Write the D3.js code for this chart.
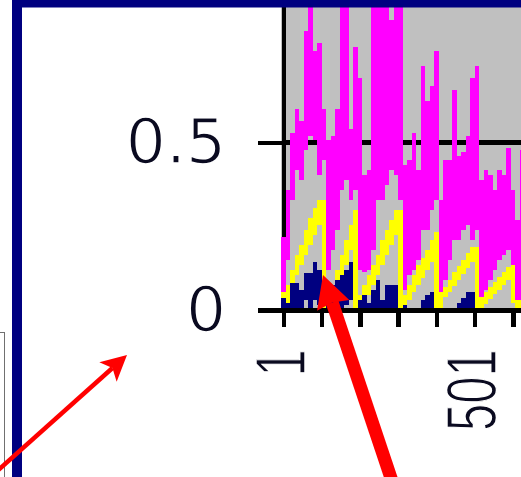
<!DOCTYPE html>
<html>
<head>
<meta charset="utf-8">
<script src="https://cdn.jsdelivr.net/npm/d3@7/dist/d3.min.js"></script>
<style>
  html, body { margin: 0; padding: 0; background: #ffffff; overflow: hidden; }
  #chart svg { display: block; }
</style>
</head>
<body>
<div id="chart"></div>
<script>
// one entry per drawn column (~11.8 points each): low / high of each line inside that column
const magentaHi = [0.218, 0.358, 0.527, 0.599, 0.563, 0.831, 0.95, 0.772, 0.795, 0.599,
  0.507, 0.519, 0.599, 0.95, 0.95, 0.539, 0.784, 0.691, 0.402, 0.417,
  0.95, 0.95, 0.95, 0.95, 0.864, 0.95, 0.95, 0.432, 0.447, 0.527,
  0.417, 0.727, 0.623, 0.667, 0.772, 0.328, 0.447, 0.447, 0.655, 0.459,
  0.471, 0.519, 0.691, 0.727, 0.388, 0.418, 0.403, 0.358, 0.418, 0.403,
  0.483, 0.358, 0.269, 0.477];
const magentaLo = [0.054, 0.15, 0.328, 0.417, 0.388, 0.477, 0.519, 0.507, 0.402, 0.447,
  0.12, 0.179, 0.239, 0.358, 0.388, 0.328, 0.358, 0.12, 0.114, 0.12,
  0.179, 0.328, 0.328, 0.373, 0.417, 0.402, 0.328, 0.06, 0.105, 0.12,
  0.15, 0.239, 0.239, 0.298, 0.328, 0.045, 0.09, 0.15, 0.209, 0.209,
  0.239, 0.253, 0.209, 0.239, 0.031, 0.06, 0.09, 0.12, 0.15, 0.165,
  0.18, 0.12, 0.022, 0.022];
const yellowHi = [0.054, 0.075, 0.12, 0.164, 0.194, 0.239, 0.275, 0.304, 0.328, 0.328,
  0.031, 0.075, 0.12, 0.164, 0.209, 0.254, 0.298, 0.045, 0.075, 0.105,
  0.135, 0.164, 0.209, 0.239, 0.269, 0.298, 0.298, 0.045, 0.075, 0.105,
  0.135, 0.156, 0.179, 0.209, 0.233, 0.054, 0.069, 0.09, 0.114, 0.132,
  0.15, 0.17, 0.188, 0.188, 0.039, 0.054, 0.069, 0.084, 0.099, 0.114,
  0.129, 0.135, 0.031, 0.031];
const yellowLo = [0.01, 0.016, 0.06, 0.105, 0.135, 0.164, 0.194, 0.224, 0.254, 0,
  0, 0.031, 0.06, 0.09, 0.135, 0.179, 0, 0, 0.016, 0.045,
  0.075, 0.105, 0.135, 0.164, 0.194, 0.224, 0, 0, 0.031, 0.054,
  0.075, 0.096, 0.12, 0.144, 0, 0, 0.039, 0.054, 0.072, 0.09,
  0.108, 0.126, 0.144, 0, 0, 0.019, 0.034, 0.048, 0.06, 0.075,
  0.09, 0.022, 0, 0];
const navyHi = [0.036, 0.022, 0.081, 0.081, 0.06, 0.111, 0.111, 0.144, 0.12, 0,
  0.06, 0.075, 0.09, 0.105, 0.12, 0.144, 0, 0.031, 0.045, 0.022,
  0.06, 0.09, 0.031, 0.075, 0.075, 0.075, 0, 0.016, 0, 0,
  0, 0.031, 0.045, 0.054, 0, 0, 0, 0, 0, 0.022,
  0.036, 0.054, 0.054, 0, 0, 0, 0, 0, 0, 0,
  0, 0, 0, 0];
const navyLo = [0, 0, 0, 0, 0, 0.031, 0, 0.031, 0.016, 0,
  0, 0, 0.016, 0, 0.016, 0.031, 0, 0, 0, 0,
  0, 0, 0, 0, 0, 0, 0, 0, 0, 0,
  0, 0, 0, 0, 0, 0, 0, 0, 0, 0,
  0, 0, 0, 0, 0, 0, 0, 0, 0, 0,
  0, 0, 0, 0];

const xTickValues = [1, 101, 201, 301, 401, 501, 601];
const xTickLabels = ['1', '', '', '', '', '501', ''];
const yTickValues = [0, 0.5];
const yTickLabels = ['0', '0.5'];
const binSize = 100 / 8.5;

const width = 521, height = 477;
const colors = { magenta: '#ff00ff', yellow: '#ffff00', navy: '#000080', plot: '#c0c0c0', border: '#000080' };

const svg = d3.select('#chart').append('svg')
  .attr('width', width)
  .attr('height', height)
  .style('font-family', '"DejaVu Sans", sans-serif');

const x = d3.scaleLinear().domain([1, 601]).range([283.25, 512.75]);
const y = d3.scaleLinear().domain([0, 1]).range([310.25, -25.75]);

svg.append('rect').attr('width', width).attr('height', height).attr('fill', '#ffffff');

// frame of the neighbouring object on the far left
svg.append('rect')
  .attr('x', -50).attr('y', 332.5).attr('width', 54.5).attr('height', 200)
  .attr('fill', '#ffffff').attr('stroke', '#707070').attr('stroke-width', 1);

// plot area
const plotLeft = x(1 - binSize / 2);
svg.append('rect')
  .attr('x', plotLeft).attr('y', 0)
  .attr('width', width - plotLeft).attr('height', y(0) - 2)
  .attr('fill', colors.plot);

svg.append('defs').append('clipPath')
  .attr('id', 'plot-clip')
  .append('rect')
  .attr('x', plotLeft).attr('y', 0)
  .attr('width', width - plotLeft).attr('height', y(0) + 2);

// gridline at 0.5
svg.append('g')
  .attr('class', 'grid')
  .selectAll('line').data(yTickValues.filter(v => v > 0)).enter()
  .append('line')
  .attr('x1', x(1)).attr('x2', width)
  .attr('y1', d => y(d)).attr('y2', d => y(d))
  .attr('stroke', '#000').attr('stroke-width', 4.5)
  .attr('shape-rendering', 'crispEdges');

const axisY = svg.append('g')
  .attr('class', 'axis y')
  .attr('transform', 'translate(' + x(1) + ',0)')
  .call(d3.axisLeft(y).tickValues(yTickValues)
    .tickFormat((d, i) => yTickLabels[i])
    .tickSize(25.25).tickSizeOuter(0).tickPadding(32));

axisY.select('path.domain').attr('stroke', '#000').attr('stroke-width', 4.5).attr('shape-rendering', 'crispEdges');
axisY.selectAll('.tick line').attr('stroke', '#000').attr('stroke-width', 4.5).attr('shape-rendering', 'crispEdges');
axisY.selectAll('.tick text')
  .attr('fill', '#0a0a20')
  .attr('stroke', '#ffffff')
  .attr('stroke-width', 1.6)
  .attr('paint-order', 'fill')
  .attr('font-size', 63)
  .attr('font-family', '"DejaVu Sans", sans-serif');

// series, drawn back to front
const series = [
  { label: 'magenta', color: colors.magenta, hi: magentaHi, lo: magentaLo },
  { label: 'yellow', color: colors.yellow, hi: yellowHi, lo: yellowLo },
  { label: 'navy', color: colors.navy, hi: navyHi, lo: navyLo }
];

svg.append('g')
  .attr('class', 'lines')
  .attr('clip-path', 'url(#plot-clip)')
  .selectAll('g.series').data(series).enter()
  .append('g')
  .attr('class', 'series')
  .attr('fill', d => d.color)
  .selectAll('rect')
  .data(d => d.hi.map((v, i) => ({ i: i, hi: v, lo: d.lo[i] })).filter(c => c.hi > c.lo))
  .enter()
  .append('rect')
  .attr('x', c => x(1 + (c.i - 0.5) * binSize))
  .attr('width', c => x(1 + (c.i + 0.5) * binSize) - x(1 + (c.i - 0.5) * binSize))
  .attr('y', c => y(c.hi))
  .attr('height', c => y(c.lo) - y(c.hi))
  .attr('shape-rendering', 'crispEdges');

const axisX = svg.append('g')
  .attr('class', 'axis x')
  .attr('transform', 'translate(0,' + y(0) + ')')
  .call(d3.axisBottom(x).tickValues(xTickValues)
    .tickFormat((d, i) => xTickLabels[i])
    .tickSize(16.75).tickSizeOuter(0));

axisX.select('path.domain')
  .attr('d', 'M' + (x(1) - 25.25) + ',0H' + width)
  .attr('stroke', '#000').attr('stroke-width', 4.5).attr('shape-rendering', 'crispEdges');
axisX.selectAll('.tick line').attr('stroke', '#000').attr('stroke-width', 4.5).attr('shape-rendering', 'crispEdges');
axisX.selectAll('.tick text')
  .attr('fill', '#0a0a20')
  .attr('stroke', '#ffffff')
  .attr('stroke-width', 1.4)
  .attr('paint-order', 'fill')
  .attr('font-size', 70)
  .attr('font-family', '"Liberation Sans", Arial, sans-serif')
  .attr('text-anchor', 'end')
  .attr('x', 0).attr('y', 0).attr('dy', 0)
  .attr('transform', 'translate(21,39) rotate(-90) scale(0.7,1)');

// chart-area border (navy), cropped at top and left
svg.append('rect').attr('x', 12).attr('y', 0).attr('width', width - 12).attr('height', 7.5).attr('fill', colors.border);
svg.append('rect').attr('x', 12).attr('y', 0).attr('width', 10).attr('height', height).attr('fill', colors.border);

// red call-out arrows
const arrows = [
  { x1: -4, y1: 472, x2: 127, y2: 355, w: 4.5, head: 25.5, half: 13, notch: 6 },
  { x1: 395, y1: 490, x2: 323, y2: 275, w: 13, head: 32, half: 17, notch: 3 }
];

const drawArrow = (a) => {
  const dx = a.x2 - a.x1, dy = a.y2 - a.y1, len = Math.hypot(dx, dy);
  const ux = dx / len, uy = dy / len, px = -uy, py = ux;
  const bx = a.x2 - ux * a.head, by = a.y2 - uy * a.head;
  const nx = a.x2 - ux * (a.head - a.notch), ny = a.y2 - uy * (a.head - a.notch);
  const g = svg.append('g').attr('class', 'arrow');
  g.append('line')
    .attr('x1', a.x1).attr('y1', a.y1)
    .attr('x2', nx).attr('y2', ny)
    .attr('stroke', '#ff0000').attr('stroke-width', a.w);
  g.append('path')
    .attr('d', d3.line()([[a.x2, a.y2], [bx + px * a.half, by + py * a.half], [nx, ny], [bx - px * a.half, by - py * a.half]]) + 'Z')
    .attr('fill', '#ff0000');
};
arrows.forEach(drawArrow);
</script>
</body>
</html>
